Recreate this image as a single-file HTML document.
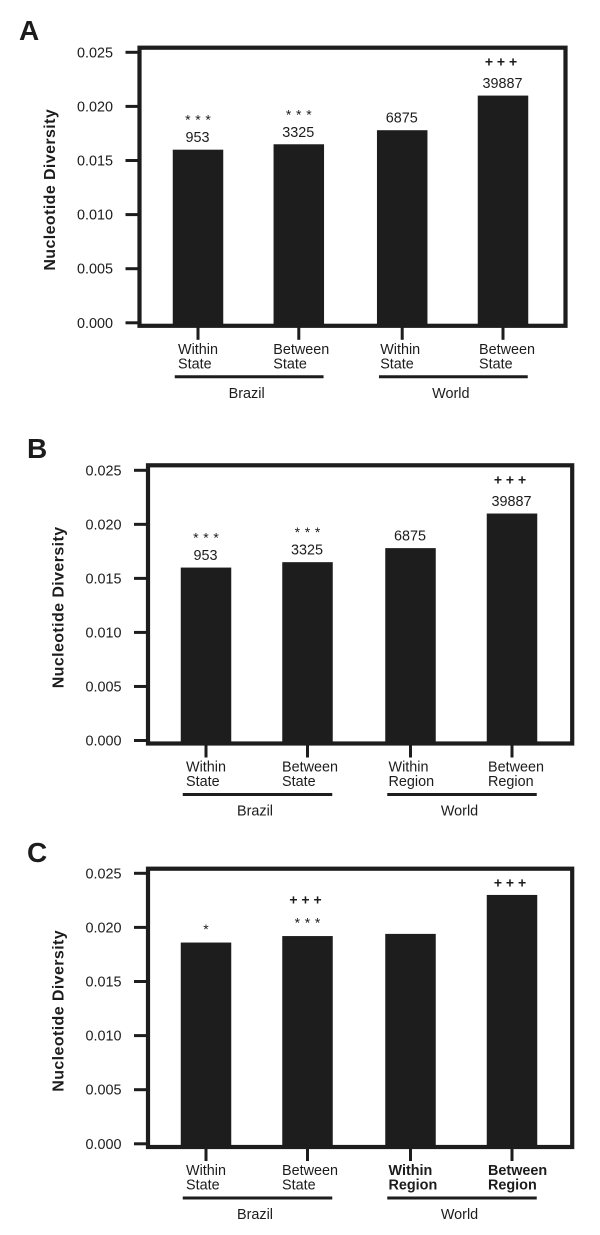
<!DOCTYPE html>
<html lang="en">
<head>
<meta charset="utf-8">
<title>Nucleotide Diversity</title>
<style>
html,body{margin:0;padding:0;background:#fff;}
svg{display:block;}
text{font-family:"Liberation Sans",Arial,sans-serif;fill:#1c1c1c;}
</style>
</head>
<body>
<svg id="figure" xmlns="http://www.w3.org/2000/svg" width="600" height="1235" viewBox="0 0 600 1235"></svg>
<script>
const tickLabels = ['0.000', '0.005', '0.010', '0.015', '0.020', '0.025'];
const groupNames = ['Brazil', 'World'];

const categoriesA = ['Within State', 'Between State', 'Within State', 'Between State'];
const valuesA = [0.0160, 0.0165, 0.0178, 0.0210];
const countsA = ['953', '3325', '6875', '39887'];
const starsA = [3, 3, 0, 0];
const plusesA = [0, 0, 0, 3];
const boldA = [false, false, false, false];

const categoriesB = ['Within State', 'Between State', 'Within Region', 'Between Region'];
const valuesB = [0.0160, 0.0165, 0.0178, 0.0210];
const countsB = ['953', '3325', '6875', '39887'];
const starsB = [3, 3, 0, 0];
const plusesB = [0, 0, 0, 3];
const boldB = [false, false, false, false];

const categoriesC = ['Within State', 'Between State', 'Within Region', 'Between Region'];
const valuesC = [0.0186, 0.0192, 0.0194, 0.0230];
const countsC = ['', '', '', ''];
const starsC = [1, 3, 0, 0];
const plusesC = [0, 3, 0, 3];
const boldC = [false, false, true, true];

const svg = document.getElementById('figure');
const INK = '#1d1d1d';

function make(tag, attrs, text) {
  const el = document.createElementNS('http://www.w3.org/2000/svg', tag);
  for (const k in attrs) el.setAttribute(k, attrs[k]);
  if (text !== undefined) el.textContent = text;
  svg.appendChild(el);
  return el;
}
function mark(count, ch) {
  return Array(count).fill(ch).join(' ');
}

function drawPanel(p) {
  const yAxis = v => p.y0 - (v / 0.025) * (p.y0 - p.y25);
  const xAxis = i => p.firstX + i * p.step + (i >= 2 ? p.gap : 0);
  const barW = 50.5;

  const letter = make('text', {x: p.letterX, y: p.letterY, 'font-size': 28, 'font-weight': 'bold'}, p.letter);
  
  

  p.values.forEach((v, i) => {
    const top = yAxis(v);
    const cx = xAxis(i);
    const bar = make('rect', {x: cx - barW / 2, y: top, width: barW, height: p.bottom - top, fill: INK});
    
    

    let starCentre = top - 16.5;
    let plusCentre = top - 12;
    if (p.counts[i]) {
      const count = make('text', {x: cx - 0.5, y: top - 7.5, 'font-size': 14.4, 'text-anchor': 'middle'}, p.counts[i]);
      
      
      starCentre = top - 33;
      plusCentre = top - 34;
    }
    if (p.stars[i]) {
      const s = make('text', {x: cx, y: starCentre + 8, 'font-size': 14, 'text-anchor': 'middle', 'word-spacing': 0.8}, mark(p.stars[i], '*'));
      
      
      if (p.pluses[i]) plusCentre = starCentre - 20;
    }
    if (p.pluses[i]) {
      const s = make('text', {x: cx - 2, y: plusCentre + 4.8, 'font-size': 14, 'font-weight': 'bold', 'text-anchor': 'middle'}, mark(p.pluses[i], '+'));
      
      
    }

    const tick = make('line', {x1: cx, x2: cx, y1: p.bottom, y2: p.bottom + 14, stroke: INK, 'stroke-width': 3});
    
    

    const words = p.categories[i].split(' ');
    const lx = cx - (i % 2 ? 25.5 - (i >= 2 ? 1.5 : 0) : 20 + (i >= 2 ? 2 : 0));
    const weight = p.bold[i] ? 'bold' : 'normal';
    const l1 = make('text', {x: lx, y: p.bottom + 28, 'font-size': 14.4, 'font-weight': weight}, words[0]);
    
    
    const l2 = make('text', {x: lx, y: p.bottom + 42.5, 'font-size': 14.4, 'font-weight': weight}, words[1]);
    
    
  });

  tickLabels.forEach(label => {
    const yy = yAxis(Number(label));
    const t = make('line', {x1: p.left - 14, x2: p.left, y1: yy, y2: yy, stroke: INK, 'stroke-width': 3});
    
    
    const tl = make('text', {x: p.left - 26.5, y: yy + 5, 'font-size': 14.4, 'text-anchor': 'end'}, label);
    
    
  });

  const frame = make('rect', {x: p.left, y: p.top, width: p.right - p.left, height: p.bottom - p.top, fill: 'none', stroke: INK, 'stroke-width': 4.2});
  
  

  const title = make('text', {
    transform: 'translate(' + (p.left - 84.5) + ',' + ((p.top + p.bottom) / 2 + 3) + ') rotate(-90)',
    'font-size': 16, 'font-weight': 'bold', 'text-anchor': 'middle', 'letter-spacing': 0.4
  }, 'Nucleotide Diversity');
  
  

  groupNames.forEach((name, g) => {
    const a = xAxis(g * 2) - barW / 2 + 2;
    const b = xAxis(g * 2 + 1) + barW / 2 - 0.5;
    const line = make('line', {x1: a, x2: b, y1: p.bottom + 51, y2: p.bottom + 51, stroke: INK, 'stroke-width': 3});
    
    
    const gl = make('text', {x: (a + b) / 2 - 2.5, y: p.bottom + 72, 'font-size': 14.4, 'text-anchor': 'middle'}, name);
    
    
  });
}

drawPanel({letter: 'A', letterX: 19, letterY: 40, left: 139.5, right: 565.5, top: 47.7, bottom: 325.8, y0: 322.8, y25: 52.3, firstX: 198, step: 100.8, gap: 2.6,
  categories: categoriesA, values: valuesA, counts: countsA, stars: starsA, pluses: plusesA, bold: boldA});
drawPanel({letter: 'B', letterX: 27, letterY: 458, left: 148, right: 572.2, top: 465.3, bottom: 743.5, y0: 740.5, y25: 470.3, firstX: 206, step: 101.5, gap: 1.5,
  categories: categoriesB, values: valuesB, counts: countsB, stars: starsB, pluses: plusesB, bold: boldB});
drawPanel({letter: 'C', letterX: 27, letterY: 862, left: 148, right: 572.2, top: 868.7, bottom: 1147, y0: 1143.8, y25: 873.3, firstX: 206, step: 101.5, gap: 1.5,
  categories: categoriesC, values: valuesC, counts: countsC, stars: starsC, pluses: plusesC, bold: boldC});
</script>
</body>
</html>
